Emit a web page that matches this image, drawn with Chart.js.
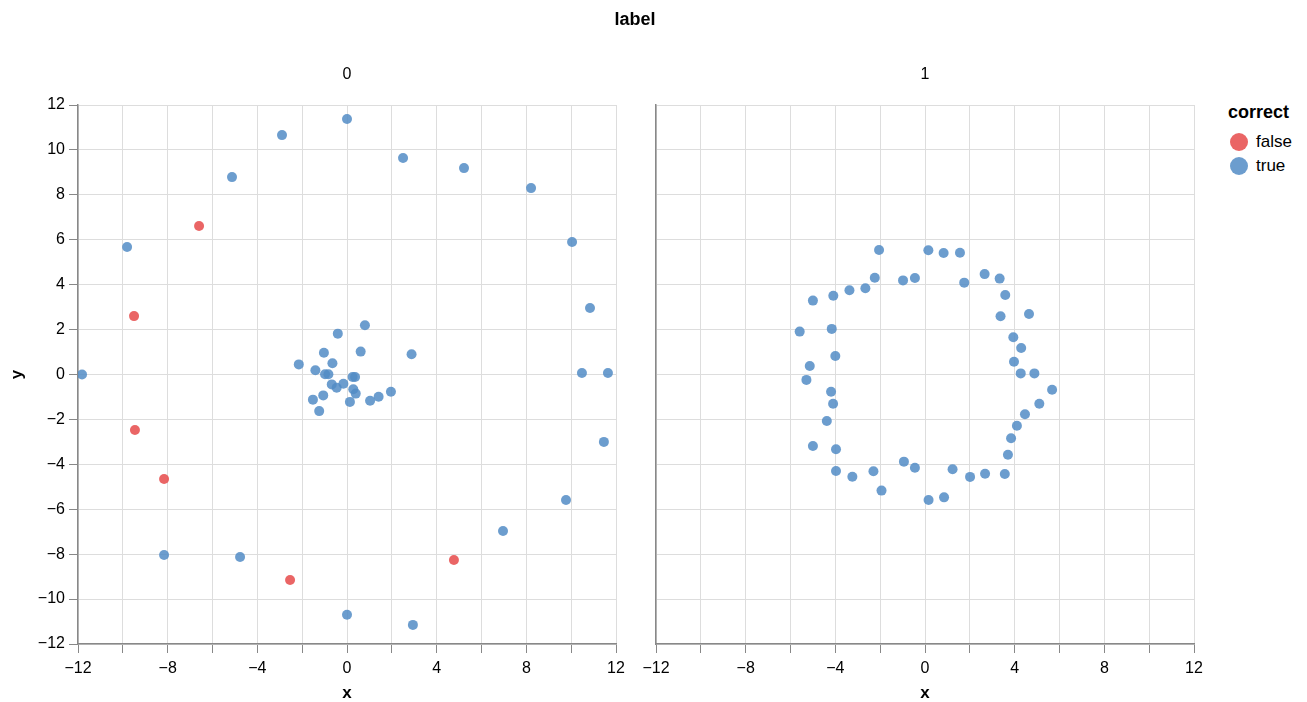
<!DOCTYPE html>
<html>
<head>
<meta charset="utf-8">
<script src="https://cdn.jsdelivr.net/npm/chart.js@4"></script>
<style>
  body { margin: 0; background: #fff; font-family: "Liberation Sans", Arial, sans-serif; }
  #wrap { position: relative; width: 1307px; height: 702px; overflow: hidden; }
  .cv { position: absolute; top: 0; }
  .txt { position: absolute; color: #000; white-space: nowrap; }
  .ctr { transform: translateX(-50%); }
  .dot { position: absolute; width: 18px; height: 18px; border-radius: 50%; }
</style>
</head>
<body>
<div id="wrap">
  <canvas id="left" class="cv" style="left:0px" width="640" height="702"></canvas>
  <canvas id="right" class="cv" style="left:578px" width="640" height="702"></canvas>
  <div class="txt ctr" style="left:635px;top:9px;font-size:18px;font-weight:bold">label</div>
  <div class="txt ctr" style="left:347px;top:65px;font-size:16px">0</div>
  <div class="txt ctr" style="left:925px;top:65px;font-size:16px">1</div>
  <div class="txt" style="left:1228px;top:102px;font-size:18px;font-weight:bold">correct</div>
  <div class="dot" style="left:1230px;top:133px;background:rgba(232,84,84,0.9)"></div>
  <div class="txt" style="left:1256px;top:132px;font-size:17px">false</div>
  <div class="dot" style="left:1230px;top:157px;background:rgba(82,140,198,0.85)"></div>
  <div class="txt" style="left:1256px;top:156px;font-size:17px">true</div>
</div>
<script>
// label = 0 panel
const leftTrueX = [-11.82, -9.81, -5.13, -2.9, 0, 2.5, 5.22, 8.21, 10.04, 10.84, 10.48, 11.64, 11.46, 9.77, 6.96, 2.94, 0, -4.77, -8.16,
  0.8, -0.41, 2.88, 0.61, -1.03, -0.65, -2.15, -1.41, -0.98, -0.83, 0.25, 0.36, -0.68, -0.16, -0.46, 0.28, 0.39, 1.96, 1.41, 1.03, 0.13, -1.06, -1.52, -1.24];
const leftTrueY = [0, 5.68, 8.79, 10.66, 11.38, 9.64, 9.19, 8.3, 5.9, 2.96, 0.07, 0.07, -3.0, -5.59, -6.97, -11.15, -10.7, -8.13, -8.04,
  2.19, 1.82, 0.9, 1.02, 0.97, 0.5, 0.45, 0.19, 0.01, 0.01, -0.11, -0.11, -0.44, -0.41, -0.59, -0.66, -0.85, -0.77, -0.99, -1.17, -1.22, -0.93, -1.12, -1.63];
const leftFalseX = [-6.6, -9.5, -9.46, -8.16, -2.54, 4.77];
const leftFalseY = [6.61, 2.6, -2.47, -4.65, -9.15, -8.26];

// label = 1 panel
const rightTrueX = [-2.05, 0.15, 0.83, 1.56, 2.66, 3.33, 1.75, 3.58, 3.37, 4.64, 3.94, 4.29, 3.97, 4.27, 4.88,
  -0.45, -0.98, -2.24, -2.66, -3.37, -4.09, -5.0, -5.59, -4.16, -4.0, -5.14, -5.29,
  -4.19, -4.1, -4.38, -5.0, -3.97, -3.97, -3.24, -2.3, -1.94, -0.94, -0.45, 0.16, 0.85, 1.23, 2.01, 2.68, 3.56, 3.7, 3.84, 4.1, 4.46, 5.1, 5.67];
const rightTrueY = [5.54, 5.53, 5.41, 5.42, 4.47, 4.27, 4.09, 3.54, 2.59, 2.69, 1.66, 1.18, 0.57, 0.05, 0.05,
  4.3, 4.19, 4.31, 3.84, 3.75, 3.51, 3.29, 1.91, 2.03, 0.82, 0.38, -0.24,
  -0.77, -1.3, -2.07, -3.18, -3.33, -4.3, -4.55, -4.31, -5.17, -3.88, -4.15, -5.59, -5.47, -4.22, -4.56, -4.42, -4.43, -3.57, -2.84, -2.28, -1.77, -1.3, -0.68];
const rightFalseX = [];
const rightFalseY = [];

const xTicks = [-12, -8, -4, 0, 4, 8, 12];

const blue = 'rgba(82,140,198,0.85)';
const red = 'rgba(232,84,84,0.9)';
const font = { family: '"Liberation Sans", Arial, sans-serif', size: 16 };

function pts(xs, ys) {
  return xs.map((x, i) => ({ x: x, y: ys[i] }));
}
function minus(v) {
  return String(v).replace('-', '\u2212');
}

function makeChart(id, xs1, ys1, xs0, ys0, showY) {
  return new Chart(document.getElementById(id), {
    type: 'scatter',
    data: {
      datasets: [
        { label: 'true', data: pts(xs1, ys1), backgroundColor: blue, borderWidth: 0, pointRadius: 5 },
        { label: 'false', data: pts(xs0, ys0), backgroundColor: red, borderWidth: 0, pointRadius: 5 }
      ]
    },
    options: {
      responsive: false,
      animation: false,
      layout: { padding: { top: 105, right: 24, left: 0, bottom: 0 } },
      plugins: { legend: { display: false }, tooltip: { enabled: false } },
      scales: {
        x: {
          type: 'linear', min: -12, max: 12,
          afterFit: s => { s.height = 58; },
          ticks: {
            stepSize: 2, color: '#000', font: font, padding: 6, maxRotation: 0, autoSkip: false,
            callback: v => xTicks.includes(v) ? minus(v) : ''
          },
          grid: { color: '#ddd', tickColor: '#888', tickLength: 9 },
          border: { color: '#888', width: 1.5 },
          title: { display: true, text: 'x', color: '#000', font: { ...font, size: 17, weight: 'bold' }, padding: { top: 0, bottom: -2 } }
        },
        y: {
          type: 'linear', min: -12, max: 12,
          afterFit: s => { s.width = 78; },
          ticks: {
            display: showY, stepSize: 2, color: '#000', font: font, padding: 4,
            callback: v => minus(v)
          },
          grid: { color: '#ddd', tickColor: '#888', tickLength: 9, drawTicks: showY },
          border: { color: '#888', width: 1.5 },
          title: { display: showY, text: 'y', color: '#000', font: { ...font, size: 17, weight: 'bold' }, padding: { top: 7, bottom: 0 } }
        }
      }
    }
  });
}

makeChart('left', leftTrueX, leftTrueY, leftFalseX, leftFalseY, true);
makeChart('right', rightTrueX, rightTrueY, rightFalseX, rightFalseY, false);
</script>
</body>
</html>
